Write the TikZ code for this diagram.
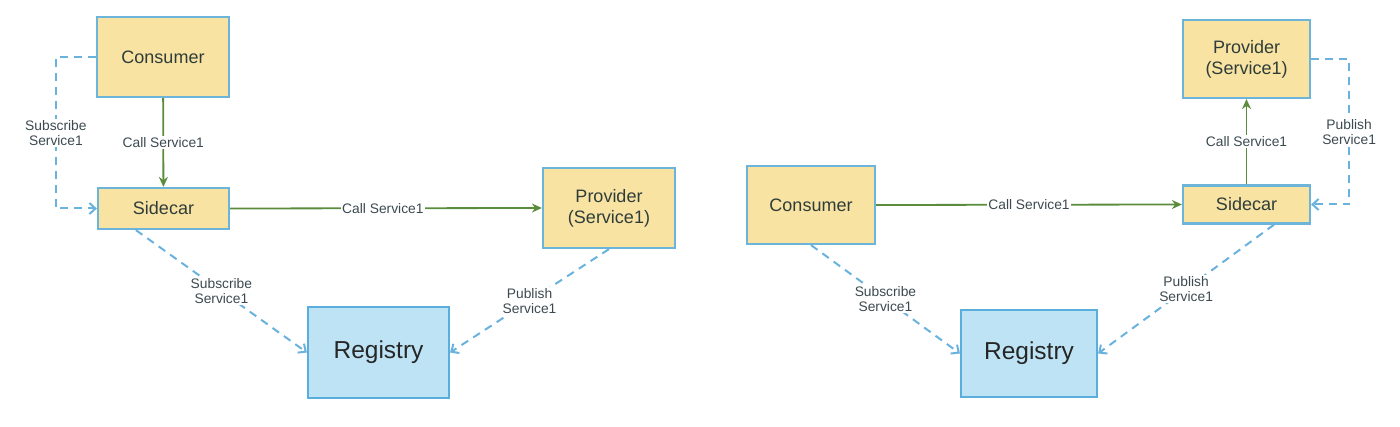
\documentclass[tikz,border=0pt]{standalone}
\usepackage{fontspec}
\setmainfont{Liberation Sans}
\usetikzlibrary{arrows.meta}
\definecolor{boxfill}{HTML}{F8E3A2}
\definecolor{boxline}{HTML}{6CB4DA}
\definecolor{regfill}{HTML}{BEE3F4}
\definecolor{regline}{HTML}{5AAEDC}
\definecolor{callgreen}{HTML}{5B8C3C}
\definecolor{dashblue}{HTML}{6AB2DE}
\definecolor{labelgrey}{HTML}{3C4A50}
\definecolor{boxtext}{HTML}{2F3D3A}
\tikzset{
  ybox/.style={draw=boxline, line width=2.2pt, fill=boxfill, text=boxtext,
    font=\fontsize{18}{21}\selectfont, align=center, inner sep=0pt},
  regbox/.style={draw=regline, line width=2.2pt, fill=regfill, text=black!85,
    font=\fontsize{24.5}{28}\selectfont, inner sep=0pt},
  callline/.style={draw=callgreen, line width=1.8pt, -{Stealth[length=10pt,width=9pt]}},
  subline/.style={draw=dashblue, line width=2pt, dash pattern=on 8pt off 6pt,
    -{Straight Barb[length=6pt,width=11pt]}},
  lbl/.style={fill=white, text=labelgrey, font=\fontsize{13.8}{15}\selectfont,
    align=center, inner sep=1.5pt},
}
\begin{document}
\begin{tikzpicture}[x=1pt,y=-1pt]
\useasboundingbox (0,0) rectangle (1400,427);
% left diagram
\node[ybox, minimum width=132pt, minimum height=80pt] (lc) at (163,57) {Consumer};
\node[ybox, minimum width=131pt, minimum height=41pt] (ls) at (163.5,208.5) {Sidecar};
\node[ybox, minimum width=132pt, minimum height=80pt] (lp) at (609,208) {Provider\\(Service1)};
\node[regbox, minimum width=141pt, minimum height=91pt] (lr) at (378.5,352.5) {Registry};
\draw[callline] (lc) -- node[lbl, pos=0.5] {Call Service1} (ls);
\draw[callline] (ls.east) -- node[lbl, pos=0.49] {Call Service1} (lp.west);
\draw[subline] (lc.west) -- ++(-40,0) |- node[lbl, pos=0.25] {Subscribe\\Service1} (ls.west);
\draw[subline] ([xshift=39pt]ls.south west) -- node[lbl, pos=0.5] {Subscribe\\Service1} (lr.west);
\draw[subline] (lp.south) -- node[lbl, pos=0.5] {Publish\\Service1} (lr.east);
% right diagram
\node[ybox, minimum width=128pt, minimum height=78pt] (rc) at (811,205) {Consumer};
\node[ybox, minimum width=127pt, minimum height=78pt] (rp) at (1246.5,59) {Provider\\(Service1)};
\node[ybox, minimum width=127pt, minimum height=38pt] (rs) at (1246.5,204.5) {Sidecar};
\node[regbox, minimum width=136pt, minimum height=87pt] (rr) at (1029,353.5) {Registry};
\draw[callline] (rc.east) -- node[lbl, pos=0.5] {Call Service1} (rs.west);
\draw[callline] (rs) -- node[lbl, pos=0.5] {Call Service1} (rp);
\draw[subline] (rp.east) -- ++(38,0) |- node[lbl, pos=0.25] {Publish\\Service1} (rs.east);
\draw[subline] (rc.south) -- node[lbl, pos=0.5] {Subscribe\\Service1} (rr.west);
\draw[subline] ([xshift=-37pt]rs.south east) -- node[lbl, pos=0.5] {Publish\\Service1} (rr.east);
\end{tikzpicture}
\end{document}
